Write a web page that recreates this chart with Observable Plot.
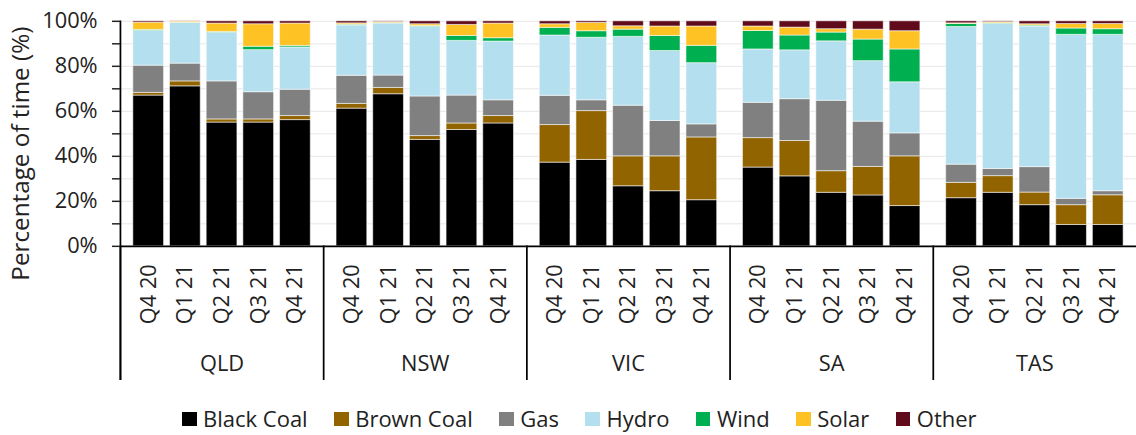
<!DOCTYPE html>
<html>
<head>
<meta charset="utf-8">
<script src="https://cdn.jsdelivr.net/npm/d3@7"></script>
<script src="https://cdn.jsdelivr.net/npm/@observablehq/plot@0.6"></script>
<style>
  html, body { margin: 0; padding: 0; overflow: hidden; background: #fff; }
  #wrap { position: relative; width: 1136px; height: 435px; overflow: hidden; font-family: "Open Sans", sans-serif; color: #222; }
  #legend { position: absolute; left: 182px; top: 403px; display: flex; align-items: center; font-size: 22px; line-height: 30px; white-space: nowrap; }
  #legend .item { display: flex; align-items: center; margin-right: 26.5px; }
  #legend .sw { width: 14.5px; height: 14.5px; margin-right: 6.5px; margin-top: 2px; }
</style>
</head>
<body>
<div id="wrap"><div id="chart"></div><div id="legend"></div></div>
<script>
const states = ["QLD", "NSW", "VIC", "SA", "TAS"];
const quarters = ["Q4 20", "Q1 21", "Q2 21", "Q3 21", "Q4 21"];
const sources = ["Black Coal", "Brown Coal", "Gas", "Hydro", "Wind", "Solar", "Other"];
const colors = ["#000000", "#926400", "#808080", "#b4dfee", "#00b050", "#ffc224", "#600b1b"];
const yTicks = [0, 10, 20, 30, 40, 50, 60, 70, 80, 90, 100];

// values per source, state-major (QLD, NSW, VIC, SA, TAS), 5 quarters each (%)
const blackCoal = [67.0, 71.1, 55.0, 55.0, 56.1, 61.2, 67.6, 47.3, 51.7, 54.6, 37.2, 38.4, 26.7, 24.5, 20.5, 35.0, 31.1, 23.8, 22.6, 17.9, 21.4, 23.8, 18.3, 9.5, 9.5];
const brownCoal = [1.2, 2.2, 1.4, 1.4, 1.8, 2.1, 2.8, 1.7, 2.9, 3.3, 16.7, 21.7, 13.3, 15.5, 27.9, 13.1, 15.7, 9.6, 12.7, 22.1, 6.8, 7.4, 5.6, 8.8, 13.2];
const gas = [12.1, 7.9, 16.9, 12.1, 11.7, 12.5, 5.5, 17.6, 12.4, 7.0, 13.0, 4.8, 22.5, 15.7, 5.8, 15.7, 18.6, 31.3, 20.1, 10.2, 8.1, 3.2, 11.3, 2.8, 1.8];
const hydro = [15.4, 18.1, 21.6, 18.7, 18.8, 22.4, 23.1, 30.9, 24.3, 26.1, 26.8, 27.8, 30.6, 31.1, 27.2, 23.7, 21.7, 26.4, 26.9, 22.7, 61.2, 64.4, 62.5, 72.9, 69.5];
const wind = [0.5, 0.1, 0.4, 1.5, 0.7, 0.3, 0.2, 0.4, 2.2, 1.5, 3.4, 2.9, 3.2, 6.7, 7.7, 8.2, 6.6, 3.9, 9.6, 14.6, 1.3, 0.3, 0.4, 2.8, 2.5];
const solar = [3.2, 0.5, 3.7, 10.0, 9.9, 0.6, 0.5, 0.8, 4.9, 6.5, 1.6, 3.7, 1.5, 4.2, 8.6, 2.0, 3.5, 1.5, 4.4, 8.1, 0.3, 0.5, 0.6, 2.0, 2.3];
const other = [0.6, 0.1, 1.0, 1.3, 1.0, 0.9, 0.3, 1.3, 1.6, 1.0, 1.3, 0.7, 2.2, 2.3, 2.3, 2.3, 2.8, 3.5, 3.7, 4.4, 0.9, 0.4, 1.3, 1.2, 1.2];

const series = [blackCoal, brownCoal, gas, hydro, wind, solar, other];
const data = [];
sources.forEach((src, si) => {
  states.forEach((st, i) => {
    quarters.forEach((q, j) => {
      data.push({state: st, quarter: q, source: src, value: series[si][i * 5 + j]});
    });
  });
});

const chart = Plot.plot({
  width: 1146,
  height: 390,
  marginLeft: 121,
  marginRight: 0,
  marginTop: 21,
  marginBottom: 142,
  style: {fontFamily: "Open Sans", fontSize: "22px", color: "#222", background: "#fff"},
  fx: {domain: states, padding: 0},
  x: {domain: quarters, paddingInner: 0.173, paddingOuter: 0.32},
  y: {domain: [0, 100]},
  color: {domain: sources, range: colors},
  marks: [
    Plot.gridY(yTicks.filter(d => d > 0), {stroke: "#e6e6e6", strokeOpacity: 1, strokeWidth: 1}),
    Plot.barY(data, Plot.stackY({fx: "state", x: "quarter", y: "value", fill: "source", stroke: "#fff", strokeOpacity: 0.55, strokeWidth: 1})),
    Plot.ruleY([0], {stroke: "#000", strokeWidth: 1.75}),
    Plot.frame({anchor: "left", insetTop: 227, insetBottom: -134, stroke: "#000", strokeWidth: 1.75}),
    Plot.frame({anchor: "left", facet: "super", insetBottom: -134, stroke: "#000", strokeWidth: 1.75}),
    Plot.axisY({ticks: yTicks, tickSize: 8, tickPadding: 15, tickFormat: d => d % 20 === 0 ? d + "%" : "", label: null, fontSize: 22, strokeWidth: 1.5}),
    Plot.axisX({tickSize: 0, tickRotate: -90, tickPadding: 18, label: null, fontSize: 22}),
    Plot.axisFx({anchor: "bottom", tickSize: 0, tickPadding: 110, label: null, fontSize: 22}),
    Plot.text(["Percentage of time (%)"], {fx: () => "QLD", frameAnchor: "left", textAnchor: "middle", rotate: -90, dx: -100, dy: 20, fontSize: 24.5, fill: "#222"})
  ]
});
document.getElementById("chart").appendChild(chart);

const legend = document.getElementById("legend");
sources.forEach((s, i) => {
  const item = document.createElement("div");
  item.className = "item";
  const sw = document.createElement("span");
  sw.className = "sw";
  sw.style.background = colors[i];
  const t = document.createElement("span");
  t.textContent = s;
  item.appendChild(sw);
  item.appendChild(t);
  legend.appendChild(item);
});
</script>
</body>
</html>
